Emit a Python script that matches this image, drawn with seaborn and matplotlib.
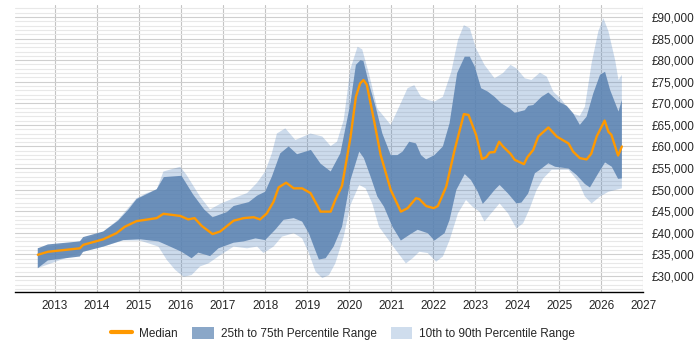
import matplotlib
matplotlib.use("Agg")
import matplotlib.pyplot as plt
from matplotlib.patches import Patch
from matplotlib.lines import Line2D
from matplotlib.ticker import FuncFormatter, MultipleLocator
import seaborn as sns
import pandas as pd
import numpy as np

# median salary
med_x = [2012.59, 2012.83, 2013.59, 2013.67, 2014.15, 2014.46, 2014.66, 2014.94, 2015.42, 2015.58,
         2015.98, 2016.17, 2016.32, 2016.49, 2016.75, 2016.93, 2017.25, 2017.49, 2017.73, 2017.88,
         2018.04, 2018.2, 2018.32, 2018.5, 2018.68, 2018.88, 2019.08, 2019.32, 2019.56, 2019.67,
         2019.83, 2020.03, 2020.16, 2020.26, 2020.34, 2020.42, 2020.59, 2020.75, 2020.99, 2021.23,
         2021.39, 2021.59, 2021.67, 2021.83, 2022.01, 2022.11, 2022.31, 2022.51, 2022.73, 2022.84,
         2023.02, 2023.16, 2023.26, 2023.34, 2023.46, 2023.57, 2023.66, 2023.84, 2023.94, 2024.16,
         2024.24, 2024.38, 2024.5, 2024.74, 2024.94, 2025.22, 2025.33, 2025.49, 2025.65, 2025.76,
         2025.89, 2026.08, 2026.17, 2026.24, 2026.33, 2026.4, 2026.49]
med_y = [34900, 35600, 36400, 37200, 38500, 39900, 41400, 42700, 43400, 44400,
         43900, 43100, 43400, 41600, 39700, 40300, 42800, 43400, 43600, 43100,
         44500, 47200, 50500, 51600, 50300, 50300, 49200, 44900, 44900, 47600,
         50900, 62000, 71500, 74600, 75400, 74300, 66100, 58000, 49900, 44900,
         45700, 48000, 47800, 46200, 45700, 46200, 50700, 59200, 67500, 67300,
         62700, 57100, 57500, 58600, 58700, 61100, 60000, 58300, 56900, 55900,
         57500, 59200, 62300, 64400, 62300, 60700, 58800, 57300, 57000, 58300,
         62300, 66000, 63400, 62700, 60000, 57900, 60000]

# 25th-75th percentile band
q75_x = [2012.59, 2012.83, 2013.59, 2013.67, 2014.15, 2014.5, 2014.74, 2014.94, 2015.42, 2015.59,
         2016.01, 2016.29, 2016.55, 2016.75, 2017.09, 2017.25, 2017.61, 2017.81, 2018.0, 2018.16,
         2018.36, 2018.56, 2018.76, 2019.09, 2019.32, 2019.56, 2019.79, 2020.03, 2020.16, 2020.27,
         2020.34, 2020.47, 2020.63, 2020.79, 2020.99, 2021.15, 2021.27, 2021.43, 2021.59, 2021.71,
         2021.83, 2022.03, 2022.23, 2022.39, 2022.57, 2022.75, 2022.87, 2022.99, 2023.14, 2023.3,
         2023.46, 2023.62, 2023.82, 2023.94, 2024.18, 2024.26, 2024.38, 2024.58, 2024.74, 2024.98,
         2025.18, 2025.33, 2025.49, 2025.65, 2025.81, 2025.97, 2026.09, 2026.21, 2026.41, 2026.49]
q75_y = [36400, 37300, 38000, 39000, 40300, 42800, 45300, 47800, 50100, 52900,
         53200, 48800, 45400, 43600, 44800, 46200, 47100, 48600, 49500, 53000,
         58400, 60000, 58200, 59200, 56000, 54200, 58400, 70000, 78900, 80000,
         79800, 74600, 69200, 63000, 58000, 58000, 58800, 61100, 60700, 58000,
         57000, 58000, 60000, 65400, 77000, 80800, 80800, 78500, 73500, 72700,
         71500, 70000, 68800, 67800, 68400, 69400, 69600, 71500, 72500, 70400,
         69400, 67700, 65000, 66900, 72300, 76600, 77300, 73100, 68100, 70800]
q25_x = [2012.59, 2012.83, 2013.59, 2013.67, 2014.15, 2014.62, 2015.02, 2015.46, 2015.74, 2016.01,
         2016.25, 2016.41, 2016.69, 2016.89, 2017.25, 2017.49, 2017.77, 2018.0, 2018.24, 2018.44,
         2018.68, 2018.88, 2019.04, 2019.16, 2019.28, 2019.44, 2019.63, 2019.83, 2020.03, 2020.24,
         2020.35, 2020.51, 2020.67, 2020.83, 2021.03, 2021.23, 2021.43, 2021.63, 2021.87, 2022.03,
         2022.27, 2022.39, 2022.55, 2022.75, 2022.9, 2023.06, 2023.18, 2023.3, 2023.46, 2023.58,
         2023.78, 2023.98, 2024.1, 2024.26, 2024.42, 2024.54, 2024.74, 2024.9, 2025.22, 2025.41,
         2025.61, 2025.73, 2025.93, 2026.09, 2026.25, 2026.4, 2026.49]
q25_y = [31800, 33600, 34500, 35600, 36800, 38300, 38500, 38000, 36800, 35600,
         34100, 35400, 34600, 36400, 37700, 38000, 38700, 38300, 40700, 43000,
         43400, 42600, 39900, 36800, 33800, 34100, 36800, 41400, 52200, 58800,
         57300, 53000, 48400, 46000, 41400, 38200, 39500, 40700, 39900, 38200,
         39900, 43000, 49900, 53600, 52200, 49500, 46700, 48000, 49900, 51100,
         49100, 46800, 47000, 49100, 53800, 54600, 56100, 55300, 54900, 53400,
         51300, 50500, 53800, 56300, 55300, 52500, 52600]

# 10th-90th percentile band
p90_x = [2012.59, 2013.59, 2014.15, 2014.5, 2014.94, 2015.18, 2015.42, 2015.58, 2015.98, 2016.13,
         2016.45, 2016.69, 2016.93, 2017.25, 2017.57, 2017.81, 2018.0, 2018.16, 2018.28, 2018.48,
         2018.72, 2019.08, 2019.36, 2019.56, 2019.71, 2019.87, 2020.03, 2020.2, 2020.31, 2020.47,
         2020.67, 2020.83, 2020.99, 2021.19, 2021.39, 2021.55, 2021.71, 2021.87, 2022.03, 2022.23,
         2022.43, 2022.59, 2022.73, 2022.87, 2023.02, 2023.22, 2023.46, 2023.66, 2023.84, 2023.98,
         2024.18, 2024.34, 2024.54, 2024.7, 2024.86, 2025.06, 2025.29, 2025.49, 2025.61, 2025.77,
         2025.93, 2026.05, 2026.17, 2026.33, 2026.41, 2026.49]
p90_y = [36400, 38000, 40300, 43000, 48000, 49200, 50000, 54200, 55300, 53400,
         48400, 45400, 46700, 48000, 49200, 51600, 54200, 58400, 63000, 64200,
         61500, 63000, 62300, 60100, 61100, 66100, 78000, 83100, 82500, 76900,
         68800, 66900, 65000, 69200, 73500, 74200, 71500, 70800, 70400, 71500,
         77300, 84700, 88100, 87400, 82700, 78900, 75800, 77000, 78900, 78100,
         75800, 75400, 77100, 76200, 72700, 70800, 67700, 67100, 69200, 79300,
         86700, 89700, 86700, 80000, 75400, 76600]
p10_x = [2012.59, 2013.67, 2014.15, 2014.62, 2015.02, 2015.46, 2015.66, 2015.86, 2016.06, 2016.25,
         2016.45, 2016.65, 2016.93, 2017.25, 2017.57, 2017.81, 2017.96, 2018.2, 2018.4, 2018.68,
         2018.88, 2019.04, 2019.2, 2019.36, 2019.52, 2019.67, 2019.87, 2020.03, 2020.24, 2020.39,
         2020.55, 2020.71, 2020.91, 2021.11, 2021.35, 2021.51, 2021.67, 2021.87, 2022.07, 2022.23,
         2022.39, 2022.59, 2022.78, 2022.94, 2023.1, 2023.22, 2023.38, 2023.58, 2023.78, 2023.98,
         2024.14, 2024.3, 2024.46, 2024.62, 2024.82, 2025.22, 2025.45, 2025.61, 2025.77, 2025.97,
         2026.17, 2026.33, 2026.49]
p10_y = [31800, 35600, 36800, 38200, 38200, 36800, 33700, 31400, 29800, 30200,
         32200, 32900, 34800, 36800, 36400, 36800, 35300, 36800, 39100, 39900,
         38700, 35300, 31000, 29500, 30200, 32900, 39100, 46400, 51100, 50300,
         46800, 41400, 38700, 36000, 32900, 34100, 35600, 35300, 33300, 34500,
         38300, 44500, 47600, 46000, 44900, 42600, 44500, 46800, 44500, 41000,
         42200, 45700, 49900, 52600, 54600, 54600, 51900, 48400, 46800, 48400,
         49500, 49900, 50300]

years = list(range(2013, 2028))

sns.set_style("white")
plt.rcParams["font.family"] = ["Liberation Sans", "DejaVu Sans"]

fig = plt.figure(figsize=(7, 3.5), dpi=100)
ax = fig.add_axes([0.021, 0.166, 0.898, 0.82])

orange = "#ff9900"

ax.fill(p90_x + p10_x[::-1], p90_y + p10_y[::-1], color="#4a7ebb", alpha=0.28, lw=0, zorder=2)
ax.fill(q75_x + q25_x[::-1], q75_y + q25_y[::-1], color="#5a82b1", alpha=0.85, lw=0, zorder=3)
med = pd.DataFrame({"year": med_x, "salary": med_y})
sns.lineplot(data=med, x="year", y="salary", color=orange, lw=1.7, ax=ax, zorder=4)

ax.set_xlim(2012.04, 2027.0)
ax.set_ylim(26300, 92800)
ax.set_xticks(years)
ax.set_xticklabels([str(y) for y in years], fontsize=8.5)
ax.yaxis.set_major_locator(MultipleLocator(5000))
ax.yaxis.set_minor_locator(MultipleLocator(1000))
ax.yaxis.set_major_formatter(FuncFormatter(lambda v, p: f"£{int(v):,}"))
ax.yaxis.tick_right()
ax.set_yticks(range(30000, 95000, 5000))
ax.tick_params(axis="y", which="both", length=0, labelsize=8.5, pad=6)
ax.tick_params(axis="x", length=4, width=0.8, color="black", labelsize=8.5, pad=2, direction="out")
ax.grid(axis="y", which="minor", color="#e8e8e8", lw=0.8, zorder=0)
ax.grid(axis="y", which="major", color="#cfcfcf", lw=0.8, zorder=0)
ax.grid(axis="x", which="major", color="#c4c4c4", lw=0.8, zorder=0)
ax.set_axisbelow(True)
ax.set_xlabel("")
ax.set_ylabel("")
for s in ["left", "top", "right"]:
    ax.spines[s].set_visible(False)
ax.spines["bottom"].set_color("black")
ax.spines["bottom"].set_linewidth(1)

handles = [Line2D([0], [0], color=orange, lw=3),
           Patch(facecolor="#8aa7c8", edgecolor="none"),
           Patch(facecolor="#cfdded", edgecolor="none")]
labels = ["Median", "25th to 75th Percentile Range", "10th to 90th Percentile Range"]
fig.legend(handles, labels, loc="center", bbox_to_anchor=(0.49, 0.047), ncol=3, frameon=False,
           fontsize=8.5, handlelength=1.8, handleheight=1.1, columnspacing=1.2, handletextpad=0.6)

fig.savefig("out.png", dpi=100)
